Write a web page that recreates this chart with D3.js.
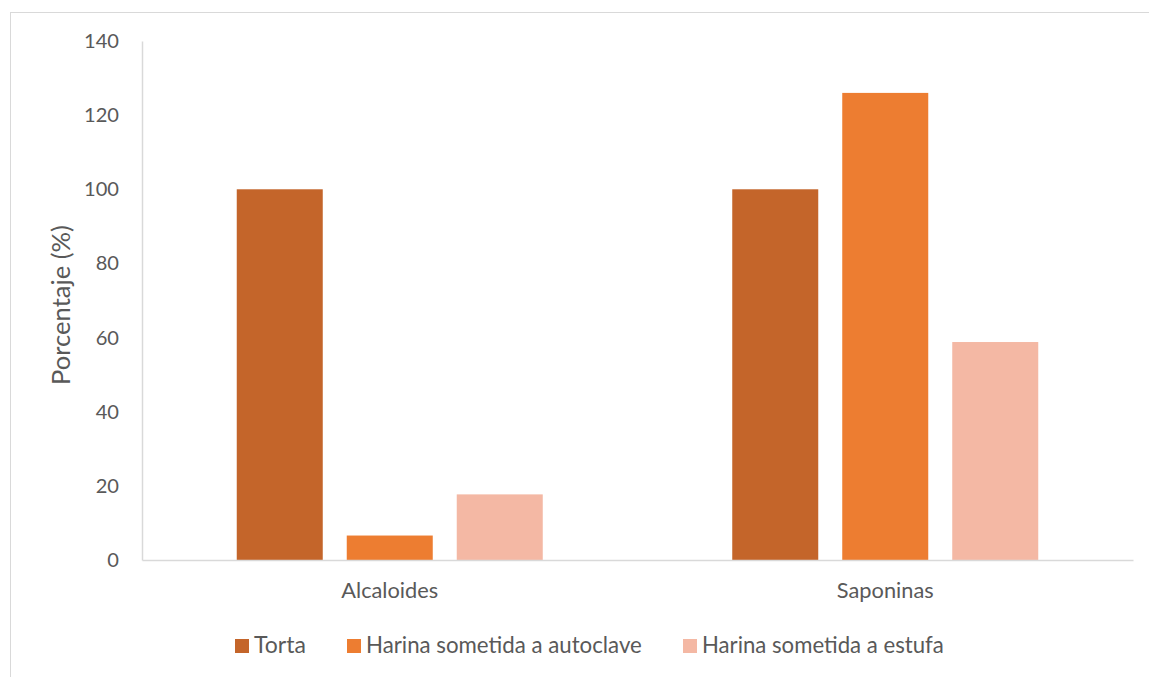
<!DOCTYPE html>
<html>
<head>
<meta charset="utf-8">
<script src="https://cdn.jsdelivr.net/npm/d3@7"></script>
<style>
  html, body { margin: 0; padding: 0; background: #fff; }
  svg { display: block; }
  text { font-family: Lato, "Open Sans", sans-serif; fill: #595959; }
</style>
</head>
<body>
<svg id="chart" width="1149" height="677"></svg>
<script>
const categories = ["Alcaloides", "Saponinas"];
const seriesNames = ["Torta", "Harina sometida a autoclave", "Harina sometida a estufa"];
const seriesColors = ["#C4652A", "#ED7D31", "#F4B8A4"];
const torta = [100, 100];
const autoclave = [6.6, 126];
const estufa = [17.7, 58.8];
const yTicks = [0, 20, 40, 60, 80, 100, 120, 140];
const seriesValues = [torta, autoclave, estufa];

const svg = d3.select("#chart");
const m = { left: 142, right: 1133, top: 41, bottom: 560 };

// fit a text node's font size so its width matches target
function fit(sel, target, base) {
  sel.style("font-size", base + "px");
  const w = sel.node().getComputedTextLength();
  const fs = base * target / w;
  sel.style("font-size", fs + "px");
  return fs;
}

// outer frame
svg.append("rect").attr("x", 10.5).attr("y", 12.5).attr("width", 1160).attr("height", 700)
  .attr("fill", "none").attr("stroke", "#D9D9D9").attr("stroke-width", 1);

const x0 = d3.scaleBand().domain(categories).range([m.left, m.right]);
const groupW = 306;
const x1 = d3.scaleBand().domain(seriesNames)
  .range([(x0.bandwidth() - groupW) / 2, (x0.bandwidth() + groupW) / 2])
  .paddingInner(24 / 110).paddingOuter(0);
const y = d3.scaleLinear().domain([0, 140]).range([m.bottom, m.top]);

// y axis
const yAxis = svg.append("g").attr("transform", `translate(${m.left},0)`)
  .call(d3.axisLeft(y).tickValues(yTicks).tickSize(0).tickPadding(23));
yAxis.select(".domain").attr("stroke", "#D9D9D9").attr("stroke-width", 1.5);
yAxis.selectAll("text").attr("fill", "#595959")
  .style("font-family", "Lato, 'Open Sans', sans-serif");
const tickFs = fit(yAxis.selectAll("text").filter(d => d === 140), 35, 20);
yAxis.selectAll("text").style("font-size", tickFs + "px");

// bars
const rows = [];
categories.forEach((c, i) => seriesNames.forEach((s, j) => rows.push({ c, s, v: seriesValues[j][i], color: seriesColors[j] })));
svg.append("g").selectAll("rect").data(rows).join("rect")
  .attr("x", d => x0(d.c) + x1(d.s))
  .attr("width", x1.bandwidth())
  .attr("y", d => y(d.v))
  .attr("height", d => y(0) - y(d.v))
  .attr("fill", d => d.color);

// x axis
const xAxis = svg.append("g").attr("transform", `translate(0,${m.bottom})`)
  .call(d3.axisBottom(x0).tickSize(0).tickPadding(23));
xAxis.select(".domain").attr("stroke", "#D9D9D9").attr("stroke-width", 1.5);
xAxis.selectAll("text").attr("fill", "#595959")
  .style("font-family", "Lato, 'Open Sans', sans-serif");
const catFs = fit(xAxis.selectAll("text").filter(d => d === "Alcaloides"), 97, 20);
xAxis.selectAll("text").style("font-size", catFs + "px");

// y label
const yl = svg.append("text").attr("transform", `translate(70,305) rotate(-90)`)
  .attr("text-anchor", "middle").text("Porcentaje (%)");
fit(yl, 160, 20);

// legend
const legendX = [235, 347, 683];
const legendW = [52, 276, 242];
const lg = svg.append("g");
seriesNames.forEach((s, i) => {
  lg.append("rect").attr("x", legendX[i]).attr("y", 639).attr("width", 14).attr("height", 14).attr("fill", seriesColors[i]);
  const t = lg.append("text").attr("x", legendX[i] + 19).attr("y", 653).text(s);
  fit(t, legendW[i], 20);
});
</script>
</body>
</html>
